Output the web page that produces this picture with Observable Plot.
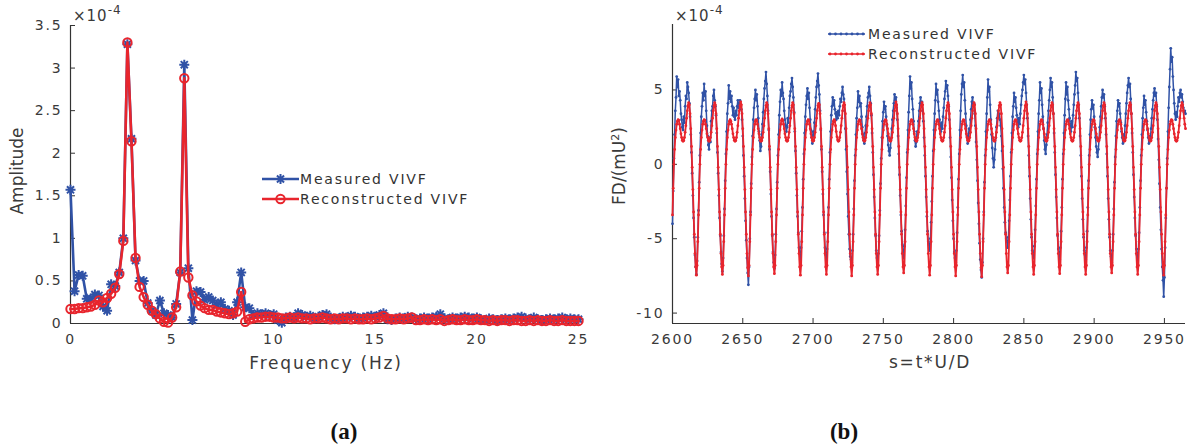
<!DOCTYPE html>
<html>
<head>
<meta charset="utf-8">
<script src="https://cdn.jsdelivr.net/npm/d3@7"></script>
<script src="https://cdn.jsdelivr.net/npm/@observablehq/plot@0.6"></script>
<style>
  html, body { margin: 0; padding: 0; background: #fff; }
  #wrap { position: relative; width: 1194px; height: 447px; overflow: hidden; background: #fff;
          font-family: "DejaVu Sans", sans-serif; color: #3a3a3a; }
  .abs { position: absolute; white-space: nowrap; }
  .panel { position: absolute; top: 0; }
  .lbl { font-size: 17px; letter-spacing: 1.8px; transform: translate(-50%, -50%); }
  .rot { font-size: 17px; transform: translate(-50%, -50%) rotate(-90deg); }
  .exp { font-size: 15px; letter-spacing: 1px; transform: translateY(-50%); }
  .exp sup { font-size: 12px; position: relative; top: -4px; vertical-align: top; }
  .leg { font-size: 14px; letter-spacing: 1.8px; transform: translateY(-50%); color: #333; }
  .cap { font-family: "Liberation Serif", serif; font-weight: bold; font-size: 23px; color: #111;
         transform: translate(-50%, -50%); }
</style>
</head>
<body>
<div id="wrap"></div>
<script>
// ---------------- data: panel (a) amplitude spectrum (x1e-4), f = 0 .. 25 Hz, step 0.2 ----------------
const freqStep = 0.2;
const measuredAmp = [
  1.57, 0.38, 0.57, 0.56, 0.29, 0.29, 0.34, 0.33, 0.20, 0.15,
  0.46, 0.44, 0.60, 1.00, 3.28, 2.17, 0.74, 0.50, 0.50, 0.24,
  0.15, 0.10, 0.27, 0.12, 0.10, 0.07, 0.23, 0.60, 3.04, 0.65,
  0.04, 0.38, 0.37, 0.28, 0.31, 0.27, 0.22, 0.25, 0.17, 0.15,
  0.10, 0.25, 0.60, 0.19, 0.18, 0.10, 0.12, 0.11, 0.12, 0.10,
  0.11, 0.04, 0.01, 0.07, 0.08, 0.07, 0.12, 0.10, 0.08, 0.09,
  0.06, 0.08, 0.10, 0.11, 0.07, 0.05, 0.06, 0.08, 0.07, 0.09,
  0.08, 0.06, 0.07, 0.08, 0.09, 0.08, 0.10, 0.12, 0.05, 0.04,
  0.06, 0.07, 0.06, 0.08, 0.07, 0.05, 0.06, 0.07, 0.06, 0.07,
  0.08, 0.11, 0.06, 0.05, 0.07, 0.06, 0.07, 0.08, 0.07, 0.06,
  0.07, 0.05, 0.04, 0.06, 0.05, 0.04, 0.05, 0.06, 0.05, 0.06,
  0.07, 0.08, 0.06, 0.05, 0.07, 0.05, 0.04, 0.05, 0.06, 0.05,
  0.06, 0.07, 0.05, 0.06, 0.05, 0.05
];
const reconstructedAmp = [
  0.17, 0.17, 0.18, 0.18, 0.19, 0.20, 0.22, 0.27, 0.25, 0.30,
  0.35, 0.42, 0.58, 0.97, 3.30, 2.14, 0.77, 0.43, 0.31, 0.22,
  0.15, 0.11, 0.06, 0.02, 0.01, 0.07, 0.19, 0.61, 2.88, 0.54,
  0.33, 0.26, 0.21, 0.18, 0.16, 0.16, 0.14, 0.13, 0.12, 0.11,
  0.12, 0.14, 0.37, 0.02, 0.05, 0.06, 0.07, 0.07, 0.08, 0.08,
  0.07, 0.07, 0.06, 0.06, 0.07, 0.06, 0.07, 0.06, 0.06, 0.05,
  0.06, 0.06, 0.07, 0.06, 0.05, 0.06, 0.05, 0.06, 0.06, 0.05,
  0.06, 0.05, 0.05, 0.06, 0.05, 0.06, 0.07, 0.09, 0.06, 0.05,
  0.05, 0.06, 0.05, 0.06, 0.07, 0.04, 0.04, 0.05, 0.04, 0.05,
  0.04, 0.05, 0.03, 0.04, 0.05, 0.04, 0.04, 0.05, 0.04, 0.04,
  0.05, 0.04, 0.04, 0.03, 0.04, 0.03, 0.04, 0.04, 0.03, 0.04,
  0.04, 0.03, 0.03, 0.04, 0.03, 0.04, 0.03, 0.03, 0.04, 0.03,
  0.03, 0.04, 0.03, 0.03, 0.03, 0.03
];
const xTicksA = [0, 5, 10, 15, 20, 25];
const yTicksA = [0, 0.5, 1, 1.5, 2, 2.5, 3, 3.5];
const xDomainA = [0, 25];
const yDomainA = [0, 3.5];

// ---------------- data: panel (b) FD (x1e-4) vs s, s = 2600 .. 2965, step 0.5 ----------------
const timeStart = 2600;
const timeStep = 0.5;
const measuredFD = [
  -4.0,-1.8,0.4,2.0,3.6,4.5,5.9,5.2,5.7,4.6,4.9,4.3,3.4,3.0,2.5,2.3,3.2,2.8,3.9,4.6,4.4,5.5,5.2,4.8,4.1,3.2,2.0,0.8,-0.6,-2.1,-3.6,-4.9,-6.1,-6.9,
  -7.4,-6.5,-4.9,-3.1,-1.2,0.6,2.1,3.2,3.9,4.8,4.3,5.4,4.6,4.9,3.6,2.6,1.9,1.3,1.0,1.8,1.5,2.9,3.6,3.9,4.6,5.0,4.3,3.9,3.3,2.1,0.8,-0.6,-2.1,-3.6,-4.8,-5.9,-6.7,
  -7.2,-6.3,-4.8,-3.0,-1.1,0.7,2.2,3.4,4.1,5.3,4.4,4.9,4.2,4.6,3.9,3.3,3.8,3.2,3.0,3.6,3.3,3.9,4.3,3.8,4.1,4.3,3.9,3.7,3.0,1.9,0.6,-0.8,-2.3,-3.8,-5.1,-6.3,-7.3,
  -8.1,-6.9,-5.0,-3.2,-1.3,0.5,1.9,3.0,3.8,4.4,5.0,4.3,4.7,3.9,3.1,2.2,1.6,0.9,1.2,2.0,2.7,3.5,4.4,5.1,5.6,6.2,5.4,4.6,3.6,2.3,1.0,-0.5,-2.0,-3.5,-4.8,-5.9,-6.6,
  -7.0,-6.1,-4.7,-3.0,-1.2,0.6,2.0,3.3,4.2,5.0,4.6,5.5,4.8,4.4,3.6,3.0,2.6,2.2,2.5,3.1,2.8,3.8,4.6,4.9,5.4,5.8,5.2,4.5,3.5,2.2,0.9,-0.6,-2.1,-3.5,-4.6,-5.6,-6.0,
  -6.4,-5.6,-4.5,-2.9,-1.0,0.7,2.1,3.2,4.0,4.6,5.1,4.4,4.8,3.8,3.0,2.3,1.8,1.4,2.2,1.9,2.8,3.7,4.5,5.2,5.6,6.1,5.3,4.7,3.6,2.3,1.0,-0.5,-2.0,-3.4,-4.6,-5.6,-6.1,
  -6.5,-5.7,-4.6,-2.9,-1.0,0.8,2.2,3.3,3.9,4.5,4.0,4.3,3.7,3.4,3.0,3.5,3.1,3.6,3.3,3.9,4.4,4.2,4.8,5.2,4.7,4.4,3.6,2.4,1.0,-0.5,-2.0,-3.5,-4.7,-5.7,-6.2,-6.4,
  -6.6,-5.8,-4.7,-3.0,-1.1,0.6,2.0,3.1,3.8,4.9,4.2,4.6,3.9,4.1,3.2,2.5,2.0,1.6,1.4,2.1,2.6,3.2,3.9,4.5,4.8,5.2,4.6,4.1,3.3,2.1,0.8,-0.7,-2.2,-3.6,-4.8,-5.8,-6.3,
  -6.8,-6.0,-4.8,-3.1,-1.3,0.4,1.8,2.9,3.5,4.2,3.7,3.9,3.2,2.6,1.9,1.3,0.9,0.6,1.1,1.7,2.4,3.0,3.6,4.1,4.7,4.3,4.5,3.8,3.0,1.9,0.7,-0.7,-2.1,-3.4,-4.5,-5.4,-5.9,
  -6.3,-5.5,-4.4,-2.8,-0.9,0.8,2.3,3.5,4.6,5.9,5.1,5.5,4.4,3.7,2.9,2.2,1.6,1.2,1.5,2.2,2.0,2.9,3.6,4.1,4.5,4.0,4.2,3.6,2.9,1.8,0.6,-0.8,-2.2,-3.5,-4.5,-5.2,-5.4,
  -5.8,-5.0,-3.9,-2.5,-0.8,0.9,2.3,3.4,4.3,5.4,4.7,5.0,4.2,3.6,3.0,2.6,2.2,2.8,2.4,3.2,3.8,4.4,4.9,5.6,5.1,5.3,4.6,3.9,3.0,1.8,0.5,-0.9,-2.4,-3.8,-5.0,-5.9,-6.3,
  -6.6,-5.8,-4.6,-2.9,-1.0,0.7,2.3,3.6,4.7,5.4,6.0,5.2,5.5,4.3,3.4,2.6,1.9,1.4,1.8,2.4,2.1,3.0,3.7,4.2,4.5,3.9,4.1,3.4,2.6,1.5,0.3,-1.1,-2.6,-4.0,-5.3,-6.4,-7.1,
  -7.6,-6.6,-5.0,-3.2,-1.2,0.6,2.2,3.4,4.5,5.7,4.9,5.2,4.0,3.0,2.0,1.1,0.4,-0.2,0.3,1.0,1.8,2.5,3.1,3.6,3.2,3.4,3.0,2.6,1.9,0.9,-0.3,-1.6,-2.9,-3.9,-4.6,-5.0,-5.2,
  -5.6,-4.9,-3.8,-2.4,-0.8,0.8,2.1,3.2,3.9,4.8,4.2,4.5,3.8,3.3,2.9,2.5,3.1,2.7,3.4,4.0,4.6,5.0,5.5,6.0,5.4,5.7,4.8,4.0,3.1,1.9,0.6,-0.8,-2.3,-3.7,-4.9,-5.8,-6.0,
  -6.3,-5.5,-4.4,-2.8,-1.0,0.7,2.2,3.4,4.3,5.5,4.8,5.1,4.0,3.2,2.4,1.6,1.0,0.7,1.3,2.0,2.8,3.6,4.3,5.0,5.8,5.2,5.5,4.5,3.4,2.1,0.8,-0.7,-2.2,-3.6,-4.8,-5.7,-6.0,
  -6.4,-5.6,-4.5,-2.9,-1.0,0.7,2.1,3.3,4.4,5.5,4.7,5.2,4.3,3.7,3.1,2.6,2.2,2.9,2.5,3.3,4.0,4.7,5.3,6.2,5.6,5.8,4.8,4.0,3.1,1.9,0.6,-0.8,-2.3,-3.7,-4.9,-5.8,-6.1,
  -6.4,-5.6,-4.5,-2.9,-1.1,0.6,2.0,3.0,3.7,4.3,3.8,4.0,3.2,2.5,1.8,1.2,0.8,0.5,1.0,1.7,2.5,3.2,3.9,4.5,5.0,4.5,4.7,3.9,3.1,2.0,0.7,-0.8,-2.3,-3.7,-4.9,-5.8,-6.2,
  -6.6,-5.8,-4.7,-3.0,-1.2,0.5,1.9,2.9,3.6,4.3,3.9,4.1,3.4,2.8,2.2,1.8,1.4,2.0,1.7,2.6,3.4,4.1,4.8,5.3,5.8,5.2,5.4,4.4,3.4,2.1,0.8,-0.7,-2.2,-3.6,-4.8,-5.7,-6.1,
  -6.5,-5.7,-4.6,-2.9,-1.1,0.6,2.0,3.1,3.8,4.6,4.0,4.3,3.5,2.9,2.3,1.8,1.4,1.9,1.6,2.4,3.1,3.7,4.3,4.8,5.1,4.6,4.8,3.9,3.0,1.7,0.3,-1.3,-2.9,-4.4,-5.7,-6.9,-7.8,
  -8.9,-7.6,-5.6,-3.6,-1.6,0.4,2.2,3.8,5.2,6.4,7.8,6.9,7.2,5.9,5.0,4.1,3.4,3.0,3.5,3.2,3.9,4.5,4.2,4.8,5.0,4.5,4.7,4.2,3.8,3.5,3.6,3.4
];
const reconstructedFD = [
  -3.4,-1.6,0.0,1.0,1.8,2.3,2.7,2.9,3.0,2.95,2.7,2.4,2.05,1.8,1.62,1.55,1.6,1.8,2.15,2.6,3.1,3.6,3.95,4.15,4.0,3.4,2.4,1.2,-0.2,-1.7,-3.2,-4.7,-6.0,-6.9,
  -7.45,-6.8,-5.2,-3.4,-1.6,0.0,1.0,1.8,2.3,2.7,2.9,3.0,2.95,2.7,2.4,2.05,1.8,1.62,1.55,1.6,1.8,2.15,2.6,3.1,3.6,3.95,4.15,4.0,3.4,2.4,1.2,-0.2,-1.7,-3.2,-4.7,-6.0,-6.9,
  -7.4,-6.8,-5.2,-3.4,-1.6,0.0,1.0,1.8,2.3,2.7,2.9,3.0,2.9,2.7,2.4,2.05,1.8,1.62,1.55,1.6,1.8,2.15,2.6,3.1,3.6,3.95,4.2,4.0,3.4,2.4,1.2,-0.2,-1.7,-3.2,-4.7,-6.0,-6.95,
  -7.5,-6.8,-5.2,-3.4,-1.6,0.0,1.0,1.8,2.3,2.7,2.9,3.0,2.95,2.7,2.4,2.05,1.8,1.6,1.55,1.6,1.8,2.15,2.6,3.1,3.6,3.95,4.15,4.0,3.4,2.4,1.2,-0.2,-1.7,-3.2,-4.7,-6.0,-6.9,
  -7.35,-6.8,-5.2,-3.4,-1.6,0.0,1.0,1.8,2.3,2.7,2.95,3.05,2.95,2.7,2.4,2.05,1.8,1.62,1.55,1.6,1.8,2.15,2.6,3.1,3.6,3.95,4.15,4.0,3.4,2.4,1.2,-0.2,-1.7,-3.2,-4.7,-6.0,-6.9,
  -7.45,-6.8,-5.2,-3.4,-1.6,0.0,1.0,1.8,2.3,2.7,2.9,3.0,2.95,2.7,2.4,2.05,1.8,1.62,1.55,1.6,1.8,2.15,2.6,3.1,3.6,3.95,4.1,4.0,3.4,2.4,1.2,-0.2,-1.7,-3.2,-4.7,-6.0,-6.9,
  -7.4,-6.8,-5.2,-3.4,-1.6,0.0,1.0,1.8,2.3,2.7,2.9,3.0,2.9,2.6,2.2,1.85,1.63,1.55,1.6,1.8,2.15,2.6,3.1,3.6,3.95,4.15,4.0,3.4,2.4,1.2,-0.2,-1.7,-3.2,-4.7,-6.0,-6.9,
  -7.5,-6.8,-5.2,-3.4,-1.6,0.0,1.0,1.8,2.3,2.7,2.9,3.0,2.95,2.7,2.4,2.05,1.8,1.62,1.55,1.6,1.8,2.15,2.6,3.1,3.6,3.95,4.15,4.0,3.4,2.4,1.2,-0.2,-1.7,-3.2,-4.7,-6.0,-6.9,
  -7.4,-6.8,-5.2,-3.4,-1.6,0.0,1.0,1.8,2.3,2.7,2.9,3.0,2.95,2.7,2.4,2.05,1.8,1.62,1.55,1.6,1.8,2.15,2.6,3.1,3.6,3.95,4.2,4.0,3.4,2.4,1.2,-0.2,-1.7,-3.2,-4.7,-6.0,-6.9,
  -7.3,-6.8,-5.2,-3.4,-1.6,0.0,1.0,1.8,2.3,2.7,2.9,3.0,2.95,2.7,2.4,2.05,1.8,1.62,1.55,1.6,1.8,2.15,2.6,3.1,3.6,3.95,4.15,4.0,3.4,2.4,1.2,-0.2,-1.7,-3.2,-4.7,-6.0,-6.9,
  -7.45,-6.8,-5.2,-3.4,-1.6,0.0,1.0,1.8,2.3,2.7,2.9,3.0,2.95,2.7,2.4,2.05,1.8,1.62,1.55,1.6,1.8,2.15,2.6,3.1,3.6,3.95,4.15,4.0,3.4,2.4,1.2,-0.2,-1.7,-3.2,-4.7,-6.0,-6.9,
  -7.5,-6.8,-5.2,-3.4,-1.6,0.0,1.0,1.8,2.3,2.7,2.9,3.0,2.95,2.7,2.4,2.05,1.8,1.62,1.55,1.6,1.8,2.15,2.6,3.1,3.6,3.95,4.15,4.0,3.4,2.4,1.2,-0.2,-1.7,-3.2,-4.7,-6.0,-6.95,
  -7.55,-6.8,-5.2,-3.4,-1.6,0.0,1.0,1.8,2.3,2.7,2.9,3.0,2.95,2.7,2.4,2.05,1.8,1.62,1.55,1.6,1.8,2.15,2.6,3.1,3.6,3.95,4.15,4.0,3.4,2.4,1.2,-0.2,-1.7,-3.2,-4.7,-6.0,-6.9,
  -7.3,-6.8,-5.2,-3.4,-1.6,0.0,1.0,1.8,2.3,2.7,2.9,3.0,2.95,2.7,2.4,2.05,1.8,1.62,1.55,1.6,1.8,2.15,2.6,3.1,3.6,3.95,4.2,4.0,3.4,2.4,1.2,-0.2,-1.7,-3.2,-4.7,-6.0,-6.9,
  -7.4,-6.8,-5.2,-3.4,-1.6,0.0,1.0,1.8,2.3,2.7,2.9,3.0,2.95,2.7,2.4,2.05,1.8,1.62,1.55,1.6,1.8,2.15,2.6,3.1,3.6,3.95,4.15,4.0,3.4,2.4,1.2,-0.2,-1.7,-3.2,-4.7,-6.0,-6.9,
  -7.35,-6.8,-5.2,-3.4,-1.6,0.0,1.0,1.8,2.3,2.7,2.9,3.0,2.95,2.7,2.4,2.05,1.8,1.62,1.55,1.6,1.8,2.15,2.6,3.1,3.6,3.95,4.15,4.0,3.4,2.4,1.2,-0.2,-1.7,-3.2,-4.7,-6.0,-6.9,
  -7.4,-6.8,-5.2,-3.4,-1.6,0.0,1.0,1.8,2.3,2.7,2.9,3.0,2.95,2.7,2.4,2.05,1.8,1.62,1.55,1.6,1.8,2.15,2.6,3.1,3.6,3.95,4.15,4.0,3.4,2.4,1.2,-0.2,-1.7,-3.2,-4.7,-6.0,-6.9,
  -7.3,-6.8,-5.2,-3.4,-1.6,0.0,1.0,1.8,2.3,2.7,2.9,3.0,2.95,2.7,2.4,2.05,1.8,1.62,1.55,1.6,1.8,2.15,2.6,3.1,3.6,3.95,4.15,4.0,3.4,2.4,1.2,-0.2,-1.7,-3.2,-4.7,-6.0,-6.9,
  -7.4,-6.8,-5.2,-3.4,-1.6,0.0,1.0,1.8,2.3,2.7,2.9,3.0,2.95,2.7,2.4,2.05,1.8,1.62,1.55,1.6,1.8,2.15,2.6,3.1,3.6,3.95,4.15,4.0,3.4,2.4,1.2,-0.2,-1.7,-3.2,-4.7,-6.0,-6.9,
  -7.45,-6.8,-5.2,-3.4,-1.6,0.0,1.0,1.8,2.3,2.7,2.9,3.0,2.95,2.7,2.4,2.05,1.8,1.62,1.55,1.6,1.8,2.15,2.6,3.1,3.6,3.95,4.15,4.0,3.6,3.1,2.7,2.4
];
const xTicksB = [2600, 2650, 2700, 2750, 2800, 2850, 2900, 2950];
const yTicksB = [-10, -5, 0, 5];
const xDomainB = [2600, 2965];
const yDomainB = [-10.7, 9.4];

const seriesNames = ["Measured VIVF", "Reconstructed VIVF"];
const captions = ["(a)", "(b)"];

// ---------------- styling ----------------
const BLUE = "#3052a6";
const RED = "#e8252d";
const AXIS = "#333333";
const tf = d => String(d);
const svgStyle = "font-family:'DejaVu Sans',sans-serif;font-size:14px;letter-spacing:1.8px;color:#3a3a3a;background:transparent;overflow:visible";

// 8-spoke asterisk (MATLAB-like '*' marker)
const star8 = {
  draw(context, size) {
    const r = Math.sqrt(size / Math.PI);
    for (let k = 0; k < 4; k++) {
      const a = k * Math.PI / 4;
      const dx = r * Math.cos(a), dy = r * Math.sin(a);
      context.moveTo(-dx, -dy);
      context.lineTo(dx, dy);
    }
  }
};

const ampMeasured = measuredAmp.map((v, i) => ({f: i * freqStep, v}));
const ampRecon = reconstructedAmp.map((v, i) => ({f: i * freqStep, v}));
const fdMeasured = measuredFD.map((v, i) => ({s: timeStart + i * timeStep, v}));
const fdRecon = reconstructedFD.map((v, i) => ({s: timeStart + i * timeStep, v}));

function axesMarks(xDomain, yDomain, xTicks, yTicks, plotW, plotH) {
  return [
    Plot.ruleX(xTicks, {stroke: AXIS, strokeWidth: 1, insetTop: plotH - 5}),
    Plot.ruleY(yTicks, {stroke: AXIS, strokeWidth: 1, insetRight: plotW - 5}),
    Plot.ruleY([yDomain[0]], {stroke: AXIS, strokeWidth: 1.2}),
    Plot.ruleX([xDomain[0]], {stroke: AXIS, strokeWidth: 1.2}),
    Plot.axisX(xTicks, {tickSize: 0, tickPadding: 11, tickFormat: tf, label: null}),
    Plot.axisY(yTicks, {tickSize: 0, tickPadding: 8, tickFormat: tf, label: null})
  ];
}

const left = Plot.plot({
  width: 600, height: 380,
  marginLeft: 70, marginRight: 22, marginTop: 25, marginBottom: 57,
  style: svgStyle,
  x: {domain: xDomainA},
  y: {domain: yDomainA},
  marks: [
    ...axesMarks(xDomainA, yDomainA, xTicksA, yTicksA, 508, 298),
    Plot.line(ampMeasured, {x: "f", y: "v", stroke: BLUE, strokeWidth: 2.6}),
    Plot.dot(ampMeasured, {x: "f", y: "v", symbol: star8, r: 5, stroke: BLUE, strokeWidth: 2}),
    Plot.line(ampRecon, {x: "f", y: "v", stroke: RED, strokeWidth: 2.6}),
    Plot.dot(ampRecon, {x: "f", y: "v", symbol: "circle", r: 4.2, stroke: RED, strokeWidth: 2, fill: "none"})
  ]
});

const right = Plot.plot({
  width: 594, height: 380,
  marginLeft: 72, marginRight: 9, marginTop: 24, marginBottom: 57,
  style: svgStyle,
  x: {domain: xDomainB},
  y: {domain: yDomainB},
  marks: [
    ...axesMarks(xDomainB, yDomainB, xTicksB, yTicksB, 513, 299),
    Plot.line(fdMeasured, {x: "s", y: "v", stroke: BLUE, strokeWidth: 1.5}),
    Plot.dot(fdMeasured, {x: "s", y: "v", r: 1.4, fill: BLUE}),
    Plot.line(fdRecon, {x: "s", y: "v", stroke: RED, strokeWidth: 1.8}),
    Plot.dot(fdRecon, {x: "s", y: "v", r: 1.4, fill: RED})
  ]
});

const wrap = document.getElementById("wrap");
const pa = document.createElement("div"); pa.className = "panel"; pa.style.left = "0px"; pa.appendChild(left);
const pb = document.createElement("div"); pb.className = "panel"; pb.style.left = "600px"; pb.appendChild(right);
wrap.appendChild(pa); wrap.appendChild(pb);

function addText(cls, html, x, y) {
  const d = document.createElement("div");
  d.className = "abs " + cls;
  d.innerHTML = html;
  d.style.left = x + "px"; d.style.top = y + "px";
  wrap.appendChild(d);
}
// axis titles
addText("lbl", "Frequency (Hz)", 326, 363);
addText("lbl", "s=t*U/D", 930, 362);
addText("rot", "Amplitude", 17, 171);
addText("rot", "FD/(mU<sup style='font-size:11px'>2</sup>)", 619, 166);
// exponents
addText("exp", "×10<sup>-4</sup>", 73, 16);
addText("exp", "×10<sup>-4</sup>", 675, 16);
// captions
addText("cap", captions[0], 344, 432);
addText("cap", captions[1], 844, 432);

// legends
function legendSwatch(x, y, color, kind) {
  const ns = "http://www.w3.org/2000/svg";
  const s = document.createElementNS(ns, "svg");
  s.setAttribute("width", 40); s.setAttribute("height", 14);
  s.style.position = "absolute"; s.style.left = (x) + "px"; s.style.top = (y - 7) + "px"; s.style.overflow = "visible";
  const ln = document.createElementNS(ns, "line");
  ln.setAttribute("x1", 0); ln.setAttribute("x2", 37); ln.setAttribute("y1", 7); ln.setAttribute("y2", 7);
  ln.setAttribute("stroke", color); ln.setAttribute("stroke-width", kind === "thin" ? 1.6 : 2.6);
  s.appendChild(ln);
  if (kind === "star") {
    const p = document.createElementNS(ns, "path");
    const c = 18.5, r = 5;
    let d = "";
    for (let k = 0; k < 4; k++) {
      const a = k * Math.PI / 4;
      d += `M${c - r * Math.cos(a)},${7 - r * Math.sin(a)}L${c + r * Math.cos(a)},${7 + r * Math.sin(a)}`;
    }
    p.setAttribute("d", d); p.setAttribute("stroke", color); p.setAttribute("stroke-width", 2);
    s.appendChild(p);
  } else if (kind === "circle") {
    const ci = document.createElementNS(ns, "circle");
    ci.setAttribute("cx", 18.5); ci.setAttribute("cy", 7); ci.setAttribute("r", 4.2);
    ci.setAttribute("fill", "none"); ci.setAttribute("stroke", color); ci.setAttribute("stroke-width", 2);
    s.appendChild(ci);
  } else {
    for (let k = 0; k <= 6; k++) {
      const ci = document.createElementNS(ns, "circle");
      ci.setAttribute("cx", 2 + k * 5.5); ci.setAttribute("cy", 7); ci.setAttribute("r", 1.4);
      ci.setAttribute("fill", color);
      s.appendChild(ci);
    }
  }
  wrap.appendChild(s);
}
legendSwatch(262, 179, BLUE, "star");
legendSwatch(262, 199, RED, "circle");
addText("leg", seriesNames[0], 300, 179);
addText("leg", seriesNames[1], 300, 199);
legendSwatch(828, 34, BLUE, "thin");
legendSwatch(828, 54, RED, "thin");
addText("leg", seriesNames[0], 868, 34);
addText("leg", seriesNames[1], 868, 54);
</script>
</body>
</html>
